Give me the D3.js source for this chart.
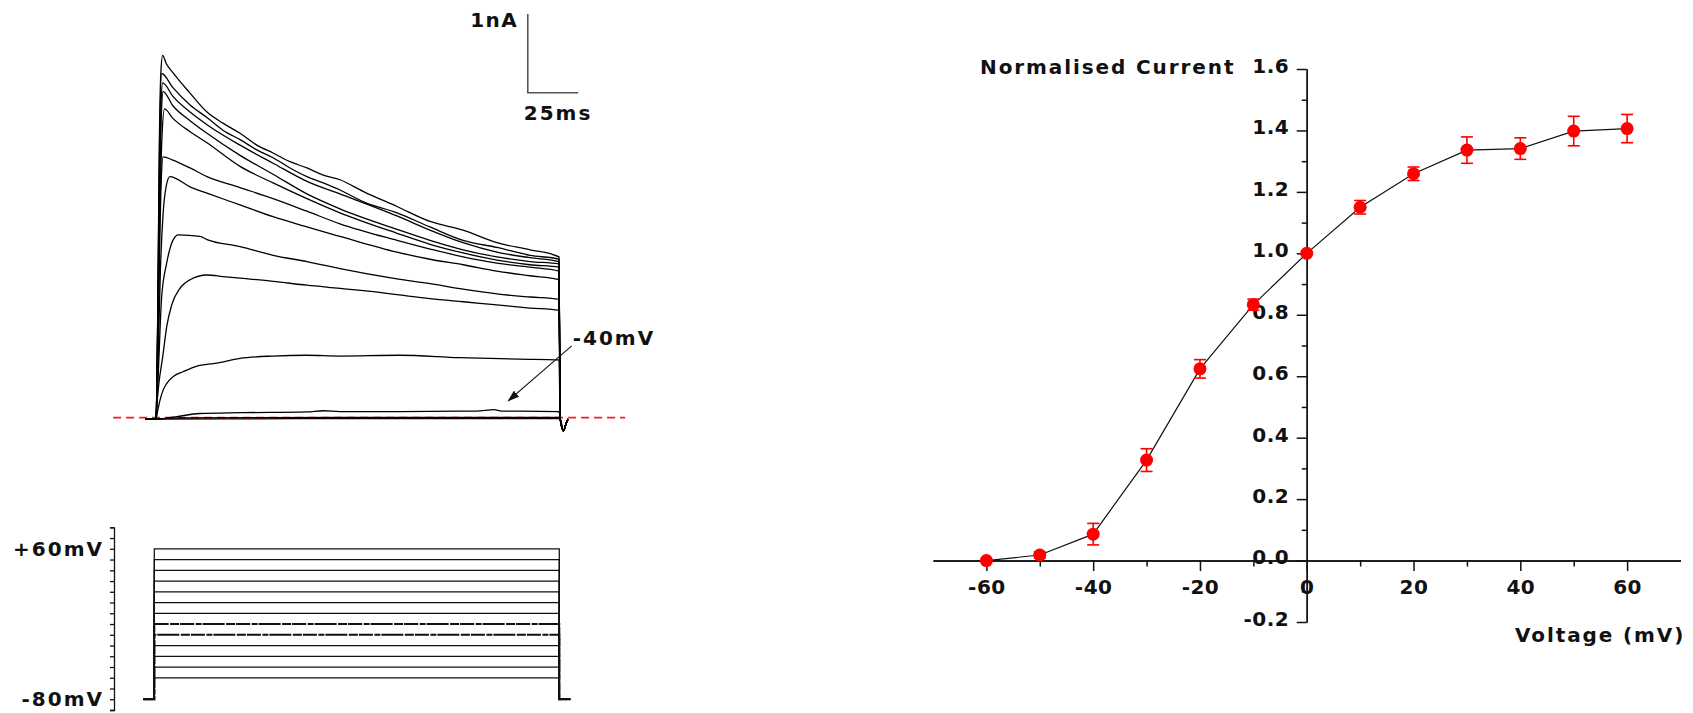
<!DOCTYPE html>
<html>
<head>
<meta charset="utf-8">
<script src="https://cdn.jsdelivr.net/npm/d3@7"></script>
<style>
  html, body { margin: 0; padding: 0; background: #ffffff; }
  svg { display: block; }
  text { font-family: "DejaVu Sans", Verdana, sans-serif; font-weight: bold; fill: #111; }
</style>
</head>
<body>
<svg id="fig" width="1693" height="713"></svg>
<script>
// ---------------------------------------------------------------------------
// Whole-cell K+ currents evoked by 200 ms voltage steps (holding -80 mV),
// with the normalised current-voltage relation on the right.
// ---------------------------------------------------------------------------

// Voltage protocol
const stepVoltages   = [60, 50, 40, 30, 20, 10, 0, -10, -20, -30, -40, -50, -60]; // mV
const holdingVoltage = -80;            // mV
const noisySteps     = [-10, -20];     // steps recorded with visible noise
const holdingSpan    = [-5.4, 205.4];  // ms, pre/post pulse holding

// Current traces [time (ms), current (nA)], one per step
const trace_p60 = [[0,0],[0.8,1.2],[1.6,3.4],[2.4,4.4],[3.3,4.62],[5,4.52],[8.4,4.40],[16.9,4.14],[25.3,3.90],[33.2,3.76],[41.7,3.63],[50,3.48],[58.1,3.38],[66.5,3.27],[74.9,3.19],[83,3.10],[91.3,3.04],[103,2.89],[119.6,2.70],[136,2.51],[152.4,2.40],[169.2,2.24],[185.6,2.15],[200,2.06]];
const trace_p50 = [[0,0],[0.8,1.2],[1.6,3.2],[2.8,4.39],[8.4,4.21],[16.9,3.99],[25.3,3.83],[33.2,3.67],[41.7,3.55],[50,3.42],[58.1,3.32],[66.5,3.19],[74.9,3.08],[83,3.00],[91.3,2.91],[103,2.76],[119.6,2.62],[136,2.44],[152.4,2.27],[169.2,2.18],[185.6,2.08],[200,2.03]];
const trace_p40 = [[0,0],[0.8,1.1],[1.7,3.0],[2.5,4.0],[3.3,4.27],[8.4,4.10],[16.9,3.90],[25.3,3.74],[41.7,3.48],[58.1,3.25],[74.9,3.02],[91.3,2.86],[119.6,2.58],[136,2.40],[152.4,2.24],[169.2,2.12],[185.6,2.05],[200,2.00]];
const trace_p30 = [[0,0],[0.8,1.0],[1.8,2.9],[2.7,3.9],[3.5,4.16],[8.4,3.98],[16.9,3.79],[25.3,3.63],[41.7,3.35],[58.1,3.11],[74.9,2.86],[91.3,2.67],[119.6,2.41],[136,2.27],[152.4,2.15],[169.2,2.06],[185.6,2.00],[200,1.97]];
const trace_p20 = [[0,0],[0.9,0.9],[1.9,2.6],[3,3.6],[4.2,3.94],[8.4,3.82],[16.9,3.65],[25.3,3.51],[41.7,3.21],[58.1,3.00],[74.9,2.80],[91.3,2.62],[119.6,2.36],[136,2.22],[152.4,2.11],[169.2,2.02],[185.6,1.96],[200,1.93]];
const trace_p10 = [[0,0],[0.9,0.8],[1.9,2.3],[2.7,3.1],[3.5,3.33],[8.4,3.29],[16.9,3.19],[25.3,3.08],[41.7,2.94],[58.1,2.80],[74.9,2.64],[91.3,2.48],[119.6,2.27],[136,2.16],[152.4,2.06],[169.2,1.98],[185.6,1.93],[200,1.88]];
const trace_0   = [[0,0],[1,0.7],[2.2,1.9],[3.5,2.6],[5,2.95],[6.9,3.08],[16.9,2.95],[25.3,2.87],[41.7,2.72],[58.1,2.57],[74.9,2.44],[91.3,2.32],[119.6,2.12],[136,2.03],[152.4,1.96],[169.2,1.88],[185.6,1.82],[200,1.77]];
const trace_m10 = [[0,0],[1,0.5],[2.8,1.55],[5.3,1.98],[8.4,2.27],[11.1,2.34],[21.8,2.32],[25.3,2.28],[41.7,2.19],[58.1,2.08],[74.9,2.00],[91.3,1.91],[119.6,1.78],[136,1.72],[152.4,1.65],[169.2,1.59],[185.6,1.55],[200,1.52]];
const trace_m20 = [[0,0],[0.4,0.16],[3.6,0.84],[5.3,1.17],[7.8,1.45],[11.9,1.66],[16.9,1.77],[25.3,1.83],[33.2,1.81],[41.7,1.79],[58.1,1.75],[74.9,1.70],[91.3,1.66],[103,1.63],[119.6,1.58],[136,1.53],[152.4,1.49],[169.2,1.45],[185.6,1.41],[200,1.38]];
const trace_m30 = [[0,0],[0.8,0.1],[2,0.24],[3.6,0.37],[5.3,0.45],[8.6,0.54],[13.4,0.60],[20,0.67],[30,0.71],[41.7,0.77],[58.1,0.80],[74.9,0.81],[91.3,0.80],[120.6,0.81],[150.5,0.78],[180.2,0.76],[200,0.75]];
const trace_m40 = [[0,0],[5,0.01],[10.3,0.03],[21.8,0.07],[41.7,0.08],[74.9,0.09],[83,0.105],[91.3,0.093],[120.6,0.093],[150.5,0.10],[159,0.10],[167.8,0.12],[171.5,0.10],[180.2,0.10],[200,0.093]];
const trace_m50 = [[0,0],[10,0.015],[100,0.02],[200,0.02]];
const trace_m60 = [[0,0],[100,0.005],[200,0.005]];
const tailCurrent = [[200.6,0.0],[202.2,-0.15],[203.6,-0.05],[204.5,0]];   // deactivation tail after the step

// Zero-current reference and annotations (ms, nA)
const zeroLineSpan  = [-21.3, 232.8];
const zeroLineLevel = 0.017;
const scaleBarOrigin = [184.5, 4.146];
const scaleBarSize   = [25, 1];          // 25 ms, 1 nA
const arrowFrom = [206.3, 0.93];
const arrowTo   = [174.8, 0.23];
const arrowLabel = "-40mV";

// Normalised I-V relation
const ivVoltage = [-60, -50, -40, -30, -20, -10, 0, 10, 20, 30, 40, 50, 60];
const ivMean    = [0.0, 0.018, 0.086, 0.327, 0.624, 0.833, 1.0, 1.150, 1.259, 1.336, 1.341, 1.398, 1.406];
const ivSEM     = [0.0, 0.010, 0.035, 0.037, 0.030, 0.018, 0.0, 0.022, 0.022, 0.043, 0.035, 0.048, 0.046];
const ivXTickLabels = [-60, -40, -20, 0, 20, 40, 60];
const ivXMinorTicks = [-50, -30, -10, 10, 30, 50];
const ivYTickLabels = [-0.2, 0.0, 0.2, 0.4, 0.6, 0.8, 1.0, 1.2, 1.4, 1.6];
const ivYMinorTicks = [-0.1, 0.1, 0.3, 0.5, 0.7, 0.9, 1.1, 1.3, 1.5];

// ---------------------------------------------------------------------------
const svg = d3.select("#fig");
const FONT = 20;
const FONT_FAMILY = "\"DejaVu Sans\", Verdana, sans-serif";

const currentTraces = [trace_p60, trace_p50, trace_p40, trace_p30, trace_p20, trace_p10,
                       trace_0, trace_m10, trace_m20, trace_m30, trace_m40, trace_m50, trace_m60];

// ---- current panel ----
const xT = d3.scaleLinear().domain([0, 200]).range([156, 559]);
const yI = d3.scaleLinear().domain([0, 5]).range([419, 419 - 5 * 78.7]);

const curPanel = svg.append("g");

curPanel.append("line")
  .attr("x1", xT(zeroLineSpan[0])).attr("x2", xT(zeroLineSpan[1]))
  .attr("y1", yI(zeroLineLevel)).attr("y2", yI(zeroLineLevel))
  .attr("stroke", "#ff1a1a").attr("stroke-width", 1.6)
  .attr("stroke-dasharray", "8,5");

const traceLine = d3.line()
  .x(d => xT(d[0])).y(d => yI(d[1]))
  .curve(d3.curveMonotoneX);

currentTraces.forEach(tr => {
  const pts = [[holdingSpan[0], 0]].concat(tr, tailCurrent);
  curPanel.append("path")
    .attr("d", traceLine(pts))
    .attr("fill", "none")
    .attr("stroke", "#000")
    .attr("stroke-width", 1.3)
    .attr("stroke-linejoin", "round");
});

// scale bar
const sbX0 = xT(scaleBarOrigin[0]), sbY0 = yI(scaleBarOrigin[1]);
const sbX1 = xT(scaleBarOrigin[0] + scaleBarSize[0]), sbY1 = yI(scaleBarOrigin[1] + scaleBarSize[1]);
curPanel.append("path")
  .attr("d", `M${sbX0},${sbY1}V${sbY0}H${sbX1}`)
  .attr("fill", "none").attr("stroke", "#555").attr("stroke-width", 1.6);
curPanel.append("text")
  .attr("x", sbX0 - 11 + 1.5).attr("y", sbY1 + 13)
  .attr("text-anchor", "end").attr("font-size", FONT)
  .attr("letter-spacing", 1.5)
  .text(scaleBarSize[1] + "nA");
curPanel.append("text")
  .attr("x", sbX0 - 4).attr("y", sbY0 + 27)
  .attr("text-anchor", "start").attr("font-size", FONT)
  .attr("letter-spacing", 2)
  .text(scaleBarSize[0] + "ms");

// arrow annotation
const defs = svg.append("defs");
defs.append("marker")
  .attr("id", "arrowHead")
  .attr("markerUnits", "userSpaceOnUse")
  .attr("markerWidth", 12).attr("markerHeight", 8)
  .attr("refX", 11).attr("refY", 4)
  .attr("orient", "auto")
  .append("path").attr("d", "M0,0L12,4L0,8Z").attr("fill", "#111");

curPanel.append("line")
  .attr("x1", xT(arrowFrom[0])).attr("y1", yI(arrowFrom[1]))
  .attr("x2", xT(arrowTo[0])).attr("y2", yI(arrowTo[1]))
  .attr("stroke", "#111").attr("stroke-width", 1.1)
  .attr("marker-end", "url(#arrowHead)");
curPanel.append("text")
  .attr("x", xT(arrowFrom[0]) + 1).attr("y", yI(arrowFrom[1]) - 1)
  .attr("font-size", FONT).attr("letter-spacing", 2)
  .text(arrowLabel);

// ---- voltage protocol panel ----
const xV = d3.scaleLinear().domain([0, 200]).range([154.3, 559.3]);
const yV = d3.scaleLinear().domain([-90, 80]).range([710, 527.3]);

const vPanel = svg.append("g");
const stepLine = d3.line().x(d => xV(d[0])).y(d => yV(d[1]));

stepVoltages.forEach(v => {
  const pts = [[holdingSpan[0], holdingVoltage], [0, holdingVoltage], [0, v],
               [200, v], [200, holdingVoltage], [holdingSpan[1], holdingVoltage]];
  const noisy = noisySteps.includes(v);
  vPanel.append("path")
    .attr("d", stepLine(pts))
    .attr("fill", "none")
    .attr("stroke", "#111")
    .attr("stroke-width", noisy ? 2 : 1.25)
    .attr("stroke-dasharray", noisy ? "14,1.5,6,1,22,1.5,9,1" : null);
});

const vAxis = d3.axisLeft(yV)
  .tickValues(d3.range(-90, 81, 10))
  .tickSize(4).tickSizeOuter(4)
  .tickFormat("");
const vAxisG = vPanel.append("g").attr("transform", "translate(114,0)").call(vAxis);
vAxisG.selectAll("path,line").attr("stroke", "#111").attr("stroke-width", 1.3);

[[60, "+60mV"], [holdingVoltage, "-80mV"]].forEach(([v, label]) => {
  vPanel.append("text")
    .attr("x", 102 + 2).attr("y", yV(v)).attr("dy", "0.36em")
    .attr("text-anchor", "end").attr("font-size", FONT)
    .attr("letter-spacing", 2)
    .text(label);
});

// ---- normalised I-V panel ----
const xIV = d3.scaleLinear().domain([-70, 70]).range([933, 1680.5]);
const yIV = d3.scaleLinear().domain([-0.2, 1.6]).range([622, 69]);
const ivPanel = svg.append("g");

// x axis through zero current
const xAxisG = ivPanel.append("g").attr("transform", `translate(0,${yIV(0)})`);
xAxisG.call(d3.axisBottom(xIV).tickValues(ivXMinorTicks).tickSize(6).tickSizeOuter(0).tickFormat(""));
xAxisG.call(g => g.append("g").call(
  d3.axisBottom(xIV).tickValues(ivXTickLabels).tickSize(10.5).tickSizeOuter(0)
    .tickPadding(8.5).tickFormat(d => String(d))));
xAxisG.selectAll("path,line").attr("stroke", "#111").attr("stroke-width", 1.5);
xAxisG.selectAll("text")
  .attr("fill", "#111").attr("font-size", FONT)
  .attr("font-family", FONT_FAMILY)
  .attr("font-weight", "bold").attr("letter-spacing", 0.5);

// y axis at 0 mV
const yAxisG = ivPanel.append("g").attr("transform", `translate(${xIV(0)},0)`);
yAxisG.call(d3.axisLeft(yIV).tickValues(ivYMinorTicks).tickSize(5).tickSizeOuter(0).tickFormat(""));
yAxisG.call(g => g.append("g").call(
  d3.axisLeft(yIV).tickValues(ivYTickLabels).tickSize(10).tickSizeOuter(0)
    .tickPadding(7.5).tickFormat(d => d.toFixed(1))));
yAxisG.selectAll("path,line").attr("stroke", "#111").attr("stroke-width", 1.5);
yAxisG.selectAll("text")
  .attr("fill", "#111").attr("font-size", FONT)
  .attr("font-family", FONT_FAMILY)
  .attr("font-weight", "bold").attr("letter-spacing", 0.5)
  .attr("dy", "0.17em");

// connecting line, error bars, markers
const ivRows = ivVoltage.map((v, i) => ({ v, m: ivMean[i], e: ivSEM[i] }));
ivPanel.append("path")
  .attr("d", d3.line().x(d => xIV(d.v)).y(d => yIV(d.m))(ivRows))
  .attr("fill", "none").attr("stroke", "#111").attr("stroke-width", 1.2);

const RED = "#ff0000";
const errG = ivPanel.append("g").attr("stroke", RED).attr("stroke-width", 1.6);
ivRows.filter(d => d.e > 0).forEach(d => {
  const x = xIV(d.v), y0 = yIV(d.m - d.e), y1 = yIV(d.m + d.e);
  errG.append("line").attr("x1", x).attr("x2", x).attr("y1", y0).attr("y2", y1);
  errG.append("line").attr("x1", x - 6).attr("x2", x + 6).attr("y1", y0).attr("y2", y0);
  errG.append("line").attr("x1", x - 6).attr("x2", x + 6).attr("y1", y1).attr("y2", y1);
});
ivPanel.append("g").selectAll("circle").data(ivRows).join("circle")
  .attr("cx", d => xIV(d.v)).attr("cy", d => yIV(d.m))
  .attr("r", 6.5).attr("fill", RED);

// axis titles
ivPanel.append("text")
  .attr("x", 980).attr("y", 74)
  .attr("font-size", FONT).attr("letter-spacing", 1.9)
  .text("Normalised Current");
ivPanel.append("text")
  .attr("x", 1515).attr("y", 642)
  .attr("font-size", FONT).attr("letter-spacing", 1.9)
  .text("Voltage (mV)");
</script>
</body>
</html>
